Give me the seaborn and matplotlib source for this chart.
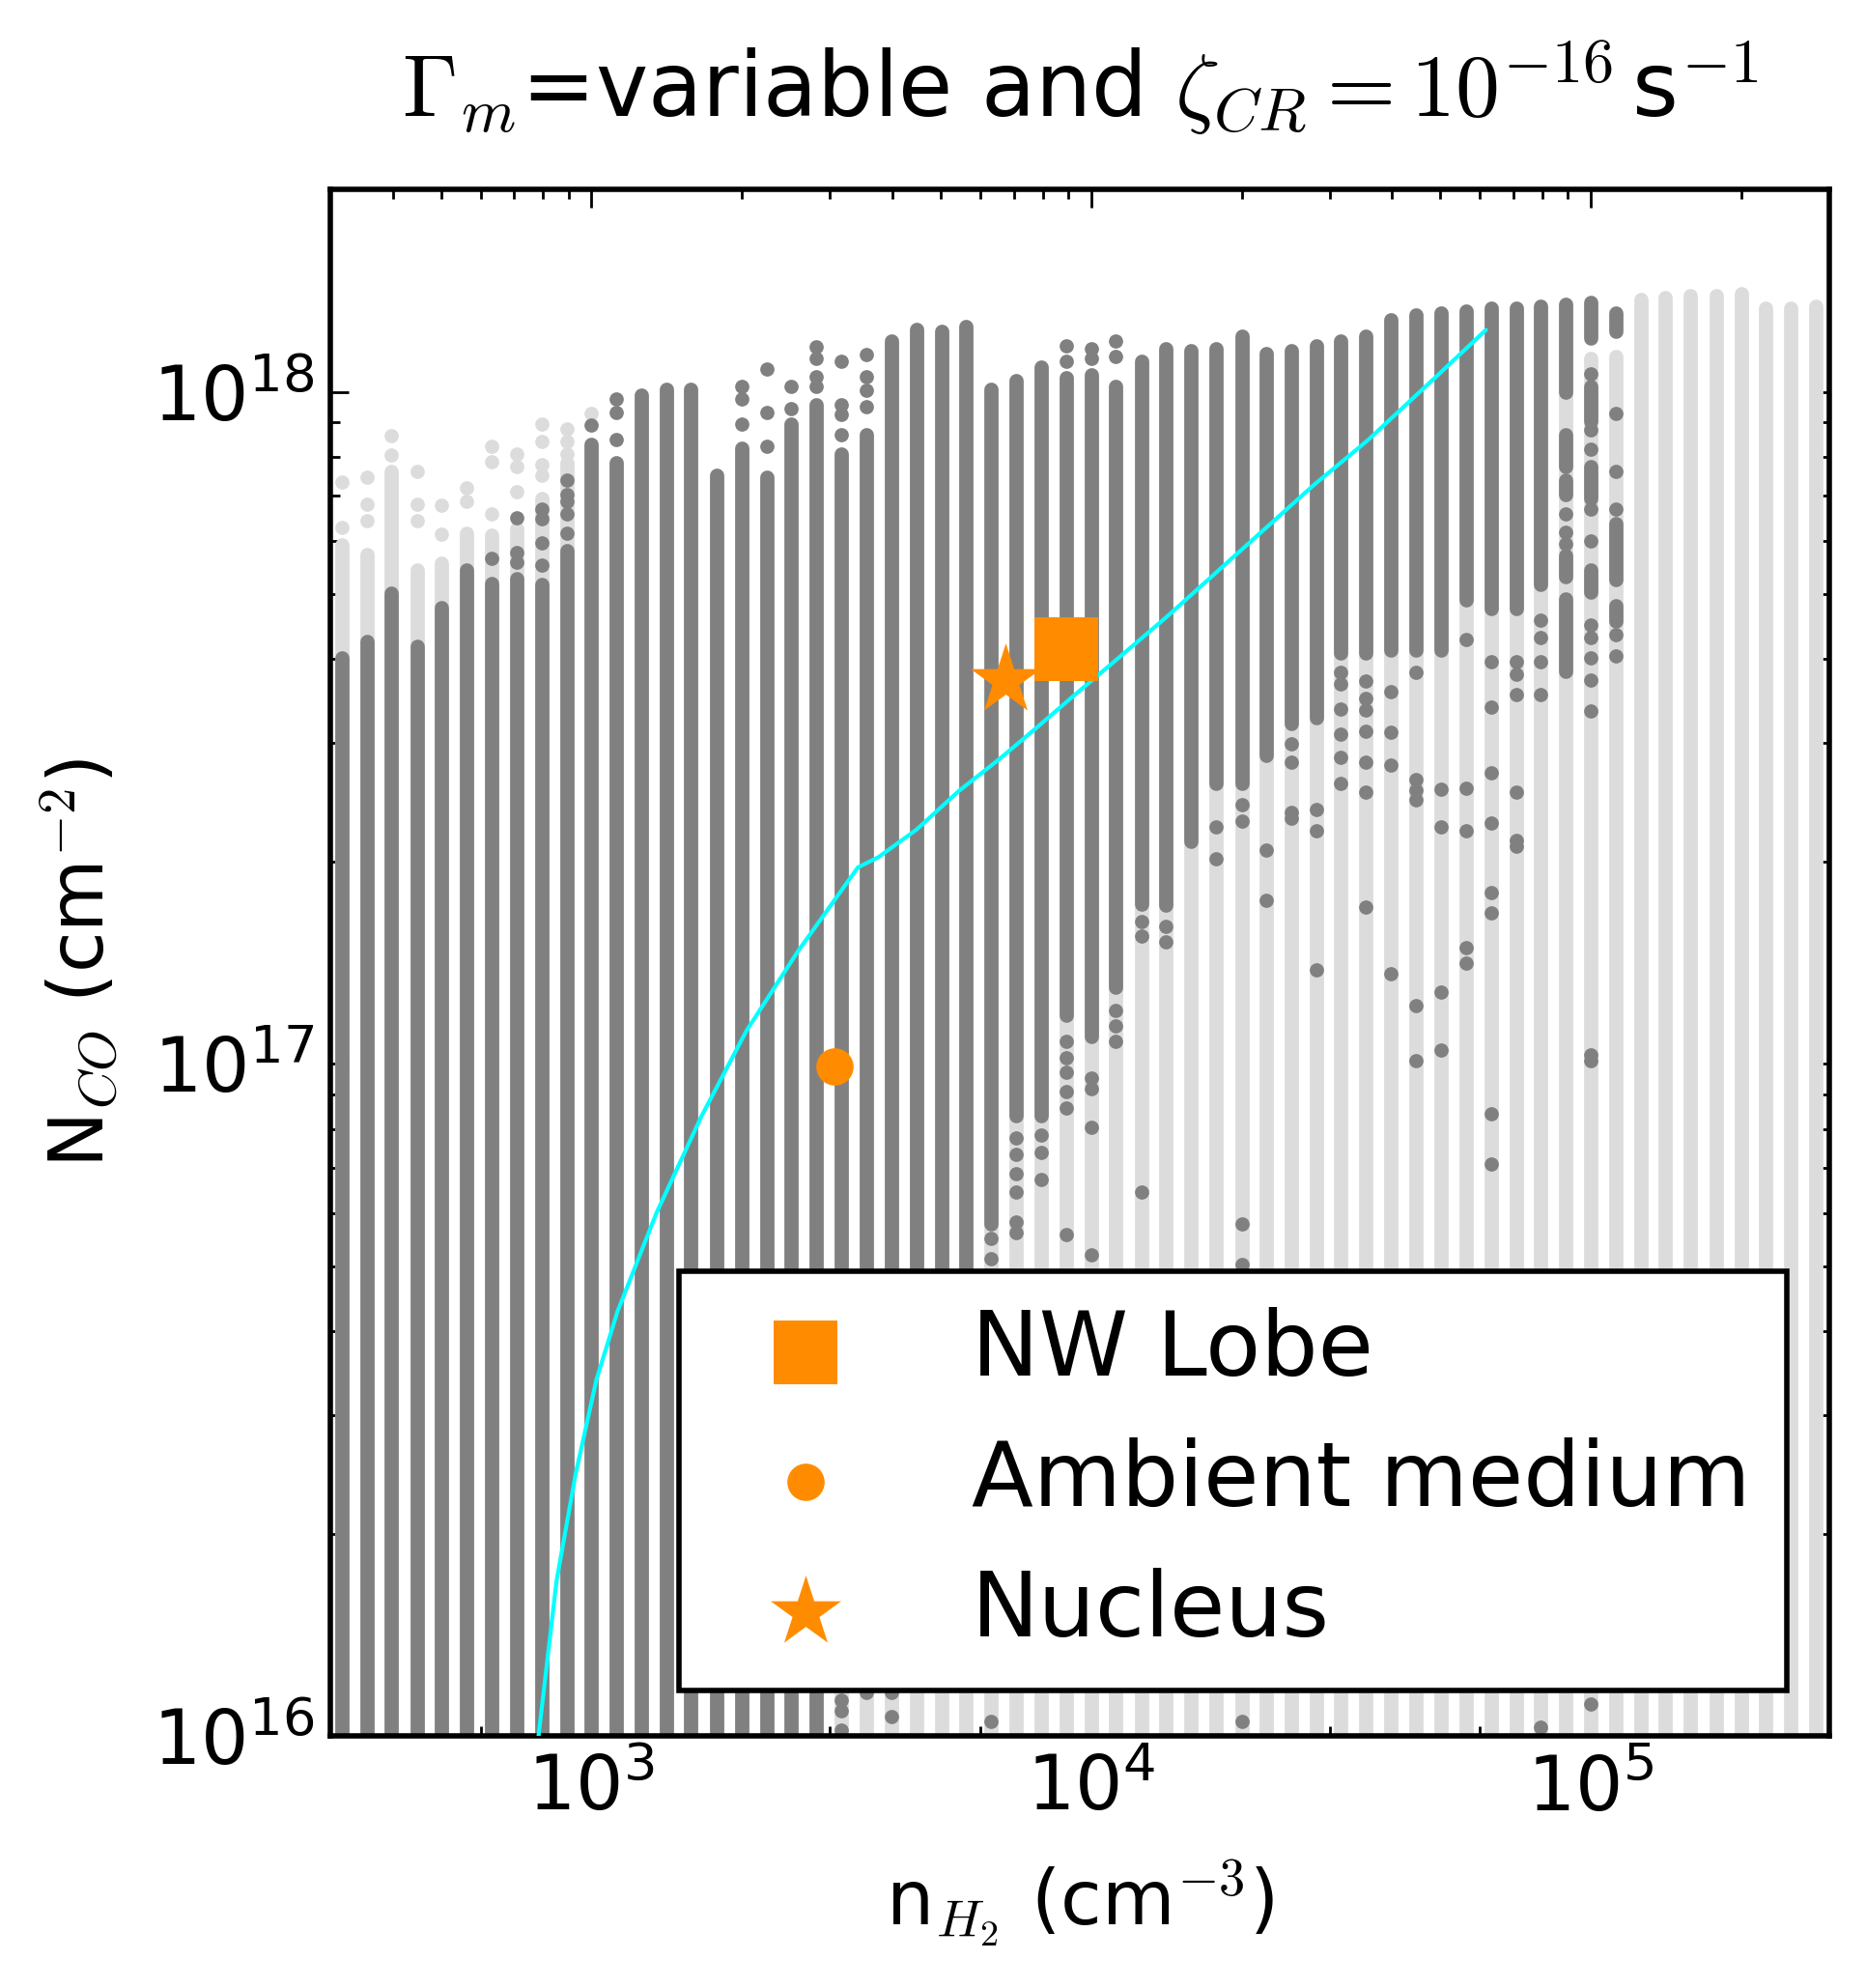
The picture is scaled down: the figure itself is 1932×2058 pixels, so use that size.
import matplotlib
matplotlib.use("Agg")
import matplotlib.pyplot as plt
import matplotlib.ticker as mticker
import seaborn as sns

# ── Model grid: one column of models per density value (cm^-3) ──────────────
NH2 = [3.16e2, 3.55e2, 3.98e2, 4.47e2, 5.01e2, 5.62e2, 6.31e2, 7.08e2, 7.94e2, 8.91e2,
       1.00e3, 1.12e3, 1.26e3, 1.41e3, 1.58e3, 1.78e3, 2.00e3, 2.24e3, 2.51e3, 2.82e3,
       3.16e3, 3.55e3, 3.98e3, 4.47e3, 5.01e3, 5.62e3, 6.31e3, 7.08e3, 7.94e3, 8.91e3,
       1.00e4, 1.12e4, 1.26e4, 1.41e4, 1.58e4, 1.78e4, 2.00e4, 2.24e4, 2.51e4, 2.82e4,
       3.16e4, 3.55e4, 3.98e4, 4.47e4, 5.01e4, 5.62e4, 6.31e4, 7.08e4, 7.94e4, 8.91e4,
       1.00e5, 1.12e5, 1.26e5, 1.41e5, 1.58e5, 1.78e5, 2.00e5, 2.24e5, 2.51e5, 2.82e5]

NCO_FLOOR = 8e15   # columns run below the lower axis limit

# top of the continuous run of all models (light grey) per column
LIGHT_TOP = [5.92e17, 5.73e17, 7.60e17, 5.44e17, 5.55e17, 6.15e17, 6.11e17, 6.27e17, 6.93e17, 7.83e17,
             8.36e17, 7.83e17, 9.90e17, 1.01e18, 1.01e18, 7.52e17, 8.25e17, 7.47e17, 8.94e17, 9.55e17,
             8.09e17, 8.64e17, 1.19e18, 1.24e18, 1.23e18, 1.25e18, 1.01e18, 1.04e18, 1.09e18, 1.05e18,
             1.06e18, 1.02e18, 1.11e18, 1.16e18, 1.15e18, 1.16e18, 1.21e18, 1.14e18, 1.15e18, 1.17e18,
             1.19e18, 1.21e18, 1.28e18, 1.30e18, 1.31e18, 1.32e18, 1.33e18, 1.33e18, 1.34e18, 1.35e18,
             1.12e18, 1.13e18, 1.37e18, 1.38e18, 1.39e18, 1.39e18, 1.40e18, 1.33e18, 1.33e18, 1.34e18]

# continuous run of matching models (dark grey): top and bottom per column
DARK_HI = [4.02e17, 4.25e17, 5.02e17, 4.18e17, 4.78e17, 5.44e17, 5.19e17, 5.28e17, 5.17e17, 5.81e17,
           8.36e17, 7.83e17, 9.90e17, 1.01e18, 1.01e18, 7.52e17, 8.25e17, 7.47e17, 8.94e17, 9.55e17,
           8.09e17, 8.64e17, 1.19e18, 1.24e18, 1.23e18, 1.25e18, 1.01e18, 1.04e18, 1.09e18, 1.05e18,
           1.06e18, 1.02e18, 1.11e18, 1.16e18, 1.15e18, 1.16e18, 1.21e18, 1.14e18, 1.15e18, 1.17e18,
           1.19e18, 1.21e18, 1.28e18, 1.30e18, 1.31e18, 1.32e18, 1.33e18, 1.33e18, 1.34e18, 1.35e18,
           1.36e18, 1.31e18]
DARK_LO = [8e15] * 20 + [1.2e16, 1.25e16, 1.25e16, 1.25e16, 1.25e16, 1.25e16,
           5.78e16, 8.38e16, 8.38e16, 1.18e17, 1.10e17, 1.30e17, 1.73e17, 1.72e17, 2.14e17,
           2.61e17, 2.61e17, 2.88e17, 3.21e17, 3.27e17, 4.08e17, 4.08e17, 4.12e17, 4.12e17,
           4.12e17, 4.90e17, 4.76e17, 4.76e17, 5.16e17, 1.00e18, 1.20e18, 1.23e18]

# extra dark runs below the main one: column -> [(top, bottom), ...]
DARK_EXTRA = {
    49: [(8.64e17, 7.75e17), (7.40e17, 7.02e17), (5.71e17, 5.30e17), (4.92e17, 3.84e17)],
    50: [(1.02e18, 9.03e17), (7.75e17, 6.93e17), (5.44e17, 5.04e17)],
    51: [(6.36e17, 5.26e17), (4.81e17, 4.56e17)],
}

# isolated light-grey models: column -> N_CO values
LIGHT_DOTS = {
    0: [7.33e17, 6.29e17],
    1: [7.47e17, 6.81e17, 6.42e17],
    2: [8.59e17, 8.04e17],
    3: [7.62e17, 6.81e17, 6.42e17],
    4: [6.77e17, 6.13e17],
    5: [7.19e17, 6.88e17],
    6: [8.31e17, 7.86e17, 6.58e17],
    7: [8.09e17, 7.75e17, 7.09e17],
    8: [8.94e17, 8.44e17, 7.78e17, 7.50e17],
    9: [8.82e17, 8.44e17, 8.09e17],
    10: [9.29e17],
}

# isolated dark-grey models: column -> N_CO values
DARK_DOTS = {
    6: [5.66e17],
    7: [6.50e17, 5.77e17, 5.57e17],
    8: [6.68e17, 6.48e17, 5.96e17, 5.53e17],
    9: [7.40e17, 7.02e17, 6.86e17, 6.58e17, 6.15e17],
    10: [8.91e17],
    11: [9.77e17, 9.33e17, 8.50e17],
    16: [1.02e18, 9.77e17, 8.94e17],
    17: [1.08e18, 9.30e17, 8.31e17],
    18: [1.02e18, 9.45e17],
    19: [1.165e18, 1.12e18, 1.054e18, 1.02e18],
    20: [1.11e18, 9.55e17, 9.24e17, 8.64e17, 1.13e16, 1.09e16, 1.02e16],
    21: [1.138e18, 1.054e18, 1.004e18, 9.49e17, 1.16e16],
    22: [1.16e16, 1.07e16],
    26: [5.50e16, 5.13e16, 1.05e16],
    27: [7.76e16, 7.34e16, 6.87e16, 6.45e16, 5.82e16, 5.61e16],
    28: [7.84e16, 7.39e16, 6.74e16],
    29: [1.17e18, 1.11e18, 1.08e17, 1.02e17, 9.72e16, 9.10e16, 8.60e16, 5.57e16],
    30: [1.16e18, 1.12e18, 9.53e16, 9.19e16, 8.05e16, 5.20e16],
    31: [1.19e18, 1.127e18, 1.20e17, 1.14e17, 1.08e17],
    32: [1.63e17, 1.55e17, 6.45e16],
    33: [1.60e17, 1.52e17],
    35: [2.25e17, 2.02e17],
    36: [2.43e17, 2.30e17, 5.78e16, 5.03e16, 1.05e16],
    37: [2.08e17, 1.75e17],
    38: [2.99e17, 2.81e17, 2.37e17, 2.32e17],
    39: [2.39e17, 2.22e17, 1.38e17],
    40: [3.82e17, 3.67e17, 3.37e17, 3.09e17, 2.86e17, 2.61e17],
    41: [3.71e17, 3.50e17, 3.36e17, 3.13e17, 2.81e17, 2.54e17, 1.71e17],
    42: [3.58e17, 3.11e17, 2.78e17, 1.36e17],
    43: [3.82e17, 2.65e17, 2.55e17, 2.47e17, 1.22e17, 1.01e17],
    44: [2.56e17, 2.25e17, 1.28e17, 1.05e17],
    45: [4.28e17, 2.57e17, 2.22e17, 1.49e17, 1.41e17],
    46: [3.96e17, 3.40e17, 2.71e17, 2.28e17, 1.80e17, 1.68e17, 8.43e16, 7.10e16],
    47: [3.96e17, 3.80e17, 3.54e17, 2.54e17, 2.15e17, 2.11e17],
    48: [4.58e17, 4.31e17, 3.96e17, 3.54e17, 1.03e16],
    49: [6.57e17, 6.17e17, 5.94e17],
    50: [1.065e18, 8.79e17, 8.22e17, 6.70e17, 6.00e17, 4.50e17, 4.31e17, 4.02e17,
         3.72e17, 3.35e17, 1.03e17, 1.01e17, 1.115e16],
    51: [9.27e17, 7.62e17, 6.70e17, 4.35e17, 4.04e17],
}

# cyan curve
LINE_N = [777, 851, 929, 1023, 1127, 1349, 1660, 2042, 2588, 3412, 3750,
          4467, 5445, 6546, 7762, 9311, 11040, 14093, 27861, 35645, 49091, 61660]
LINE_NCO = [9.5e15, 1.70e16, 2.45e16, 3.39e16, 4.28e16, 6.00e16, 8.36e16, 1.12e17,
            1.47e17, 1.96e17, 2.03e17, 2.23e17, 2.55e17, 2.84e17, 3.16e17, 3.55e17,
            3.95e17, 4.61e17, 7.26e17, 8.45e17, 1.054e18, 1.236e18]

# observed regions
OBS_LABELS = ["NW Lobe", "Ambient medium", "Nucleus"]
OBS_N = [8.9e3, 3.06e3, 6.75e3]
OBS_NCO = [4.14e17, 9.9e16, 3.73e17]

# ── Style ────────────────────────────────────────────────────────────────────
sns.set_theme(style="ticks")
plt.rcParams.update({
    "font.family": ["DejaVu Sans"],
    "mathtext.fontset": "cm",
    "axes.linewidth": 2.0,
    "text.color": "black",
    "axes.labelcolor": "black",
    "axes.edgecolor": "black",
    "xtick.color": "black",
    "ytick.color": "black",
})

LIGHT = "#dcdcdc"
DARK = "#808080"
ORANGE = "#ff8c00"
COL_LW = 5.3        # column width in points
DOT_S = COL_LW ** 2

fig = plt.figure(figsize=(9.665, 10.29), dpi=200)
ax = fig.add_axes([0.1769, 0.1268, 0.8029, 0.7779])
ax.set_xscale("log")
ax.set_yscale("log")

# light grey columns (all models)
lc = ax.vlines(NH2, NCO_FLOOR, LIGHT_TOP, colors=LIGHT, linewidth=COL_LW, zorder=1)
lc.set_capstyle("round")
lx = [NH2[c] for c, ys in LIGHT_DOTS.items() for _ in ys]
ly = [y for ys in LIGHT_DOTS.values() for y in ys]
sns.scatterplot(x=lx, y=ly, color=LIGHT, s=DOT_S, linewidth=0, ax=ax, zorder=1, legend=False)

# dark grey columns (matching models)
seg_x = NH2[:len(DARK_HI)]
seg_lo = list(DARK_LO)
seg_hi = list(DARK_HI)
for c, runs in DARK_EXTRA.items():
    for hi, lo in runs:
        seg_x.append(NH2[c]); seg_lo.append(lo); seg_hi.append(hi)
dc = ax.vlines(seg_x, seg_lo, seg_hi, colors=DARK, linewidth=COL_LW, zorder=2)
dc.set_capstyle("round")
dx = [NH2[c] for c, ys in DARK_DOTS.items() for _ in ys]
dy = [y for ys in DARK_DOTS.values() for y in ys]
sns.scatterplot(x=dx, y=dy, color=DARK, s=DOT_S, linewidth=0, ax=ax, zorder=2, legend=False)

# cyan curve
sns.lineplot(x=LINE_N, y=LINE_NCO, sort=False, estimator=None, color="cyan",
             linewidth=1.5, ax=ax, zorder=3)

# observed points
markers = {"NW Lobe": ("s", 23.7 ** 2, 6), "Ambient medium": ("o", 13.9 ** 2, 5),
           "Nucleus": ("*", 27.6 ** 2, 4)}
for lab, xv, yv in zip(OBS_LABELS, OBS_N, OBS_NCO):
    m, s, z = markers[lab]
    sns.scatterplot(x=[xv], y=[yv], marker=m, s=s, color=ORANGE, linewidth=0,
                    label=lab, ax=ax, zorder=z)

ax.set_xlim(300, 3e5)
ax.set_ylim(1e16, 2e18)

handles, labels = ax.get_legend_handles_labels()
order = [labels.index(l) for l in OBS_LABELS]
leg = ax.legend([handles[i] for i in order], [labels[i] for i in order],
                loc="lower left", bbox_to_anchor=(0.2326, 0.0294), borderaxespad=0,
                fontsize=33.6, scatterpoints=1, frameon=True, fancybox=False,
                framealpha=1, edgecolor="black", handletextpad=0.85,
                labelspacing=0.48, borderpad=0.4)
leg.get_frame().set_linewidth(2.0)
leg.set_zorder(10)
for t in leg.get_texts():
    t.set_color("black")

ax.tick_params(which="both", direction="in", top=True, right=True, width=1.0,
               colors="black")
ax.tick_params(which="major", length=7, pad=6, labelsize=28)
ax.tick_params(which="minor", length=3.5)
ax.xaxis.set_minor_formatter(mticker.NullFormatter())
ax.yaxis.set_minor_formatter(mticker.NullFormatter())
for sp in ax.spines.values():
    sp.set_visible(True)
    sp.set_linewidth(2.0)
    sp.set_color("black")

ax.set_xlabel(r"n$_{H_2}$ (cm$^{-3}$)", fontsize=28, labelpad=12, color="black")
ax.set_ylabel(r"N$_{CO}$ (cm$^{-2}$)", fontsize=28, labelpad=12, color="black")
ax.set_title(r"$\Gamma_m$=variable and $\zeta_{CR}=10^{-16}\,$s$^{-1}$",
             fontsize=33, pad=27, color="black")

fig.savefig("out.png", dpi=200)
